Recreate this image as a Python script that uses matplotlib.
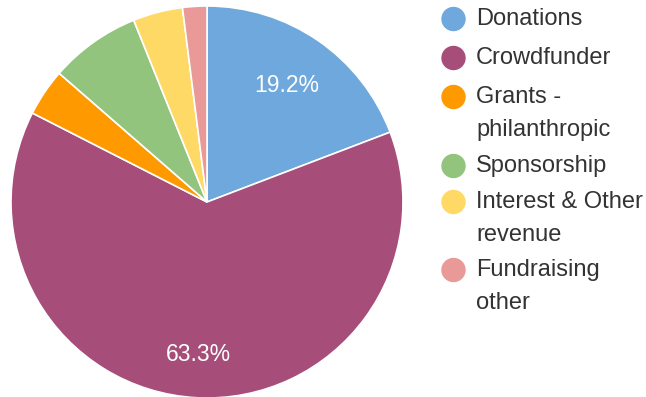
import matplotlib.pyplot as plt
from matplotlib.patches import Ellipse
import numpy as np

plt.rcParams['font.family'] = ['Liberation Sans', 'DejaVu Sans']

categories = ["Donations", "Crowdfunder", "Grants - philanthropic", "Sponsorship",
              "Interest & Other revenue", "Fundraising other"]
values = [19.2, 63.3, 3.9, 7.5, 4.1, 2.0]
colors = ["#6fa8dc", "#a64d79", "#ff9900", "#93c47d", "#ffd966", "#ea9999"]
# legend lines as wrapped in the picture
legend_lines = [["Donations"], ["Crowdfunder"], ["Grants -", "philanthropic"],
                ["Sponsorship"], ["Interest & Other", "revenue"], ["Fundraising", "other"]]

W, H = 646, 397
fig = plt.figure(figsize=(W / 100, H / 100), dpi=100)

cx, cy, r = 207, 202, 196
ax = fig.add_axes([(cx - r) / W, (H - cy - r) / H, 2 * r / W, 2 * r / H])
wedges, _ = ax.pie(values, colors=colors, startangle=90, counterclock=False,
                   wedgeprops=dict(edgecolor="white", linewidth=1.2))
ax.set_xlim(-1, 1)
ax.set_ylim(-1, 1)
ax.set_aspect("equal")
ax.axis("off")

# percentage labels for the big slices
label_dist = {0: 0.72, 1: 0.78}
for i, v in enumerate(values):
    if v < 10:
        continue
    w = wedges[i]
    ang = np.deg2rad((w.theta1 + w.theta2) / 2)
    d = label_dist[i]
    ax.text(d * np.cos(ang), d * np.sin(ang), f"{v:.1f}%", color="white",
            fontsize=16.5, ha="center", va="center")

# legend drawn by hand
row_y = [19, 58, 97, 166, 202, 270]
line_gap = 33
for i, lines in enumerate(legend_lines):
    y = row_y[i]
    fig.patches.append(Ellipse((453.5 / W, 1 - y / H), 23 / W, 23 / H, color=colors[i],
                               transform=fig.transFigure, figure=fig))
    for j, t in enumerate(lines):
        fig.text(476 / W, 1 - (y + j * line_gap) / H, t, fontsize=17,
                 color="#333333", ha="left", va="center")

fig.savefig("out.png", dpi=100)
